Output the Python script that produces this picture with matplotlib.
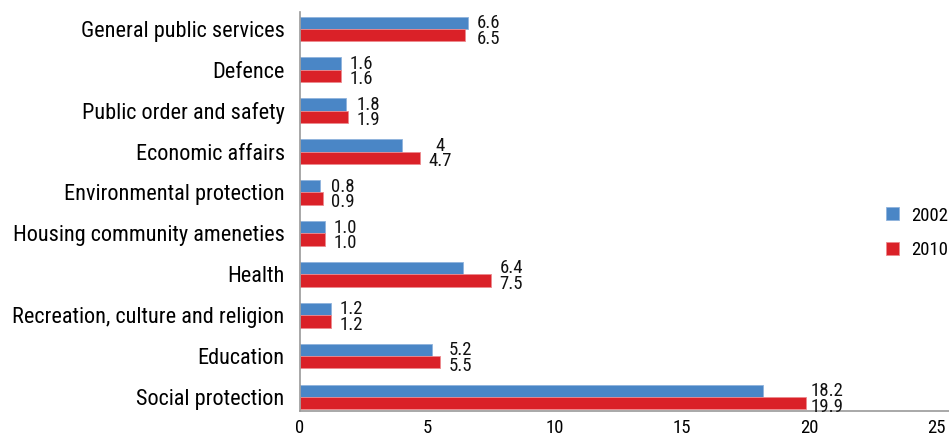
import matplotlib
matplotlib.use("Agg")
import matplotlib.pyplot as plt
import matplotlib.font_manager as fm
import numpy as np

categories = [
    "General public services",
    "Defence",
    "Public order and safety",
    "Economic affairs",
    "Environmental protection",
    "Housing community ameneties",
    "Health",
    "Recreation, culture and religion",
    "Education",
    "Social protection",
]
values_2002 = [6.6, 1.6, 1.8, 4.0, 0.8, 1.0, 6.4, 1.2, 5.2, 18.2]
values_2010 = [6.5, 1.6, 1.9, 4.7, 0.9, 1.0, 7.5, 1.2, 5.5, 19.9]
labels_2002 = ["6.6", "1.6", "1.8", "4", "0.8", "1.0", "6.4", "1.2", "5.2", "18.2"]
labels_2010 = ["6.5", "1.6", "1.9", "4.7", "0.9", "1.0", "7.5", "1.2", "5.5", "19.9"]
series_names = ["2002", "2010"]
x_ticks = [0, 5, 10, 15, 20, 25]

installed = {f.name for f in fm.fontManager.ttflist}
family = [f for f in ["Roboto Condensed", "Liberation Sans Narrow", "Liberation Sans"] if f in installed]
plt.rcParams["font.family"] = family + ["DejaVu Sans"]

blue = "#4A86C6"
red = "#DA2128"

fig = plt.figure(figsize=(9.49, 4.36), dpi=100)
ax = fig.add_axes([300 / 949, 1 - 411 / 436, 649 / 949, 399 / 436])

n = len(categories)
y = np.arange(n)[::-1].astype(float)
h = 0.30
ax.barh(y + h / 2, values_2002, height=h, color=blue, edgecolor="#8FB3DD", linewidth=0.6, label=series_names[0])
ax.barh(y - h / 2, values_2010, height=h, color=red, edgecolor="#EC8A8E", linewidth=0.6, label=series_names[1])

# value labels stacked to the right of each pair, centred on a shared x
for yi, v1, v2, l1, l2 in zip(y, values_2002, values_2010, labels_2002, labels_2010):
    xc = max(v1, v2) + 0.8
    ax.text(xc, yi + 0.02, l1, ha="center", va="baseline", fontsize=13.5, color="#111111")
    ax.text(xc, yi - 0.36, l2, ha="center", va="baseline", fontsize=13.5, color="#111111")

ax.set_xlim(0, 25.5)
ax.set_ylim(-0.34, n - 1 + 0.41)
ax.set_yticks(y)
ax.set_yticklabels(categories, fontsize=16)
ax.set_xticks(x_ticks)
ax.set_xticklabels([str(t) for t in x_ticks], fontsize=13.5)
ax.tick_params(axis="y", length=0, pad=11)
ax.tick_params(axis="x", length=0, pad=6)

for s in ["top", "right"]:
    ax.spines[s].set_visible(False)
for s in ["left", "bottom"]:
    ax.spines[s].set_color("#9A9A9A")
    ax.spines[s].set_linewidth(1.2)

fig.legend(
    loc="center left",
    bbox_to_anchor=(886 / 949, 1 - 233 / 436),
    frameon=False,
    fontsize=13.5,
    handlelength=0.69,
    handleheight=0.69,
    labelspacing=0.9,
    handletextpad=0.65,
    borderpad=0,
    borderaxespad=0,
)

fig.savefig("out.png", dpi=100)
